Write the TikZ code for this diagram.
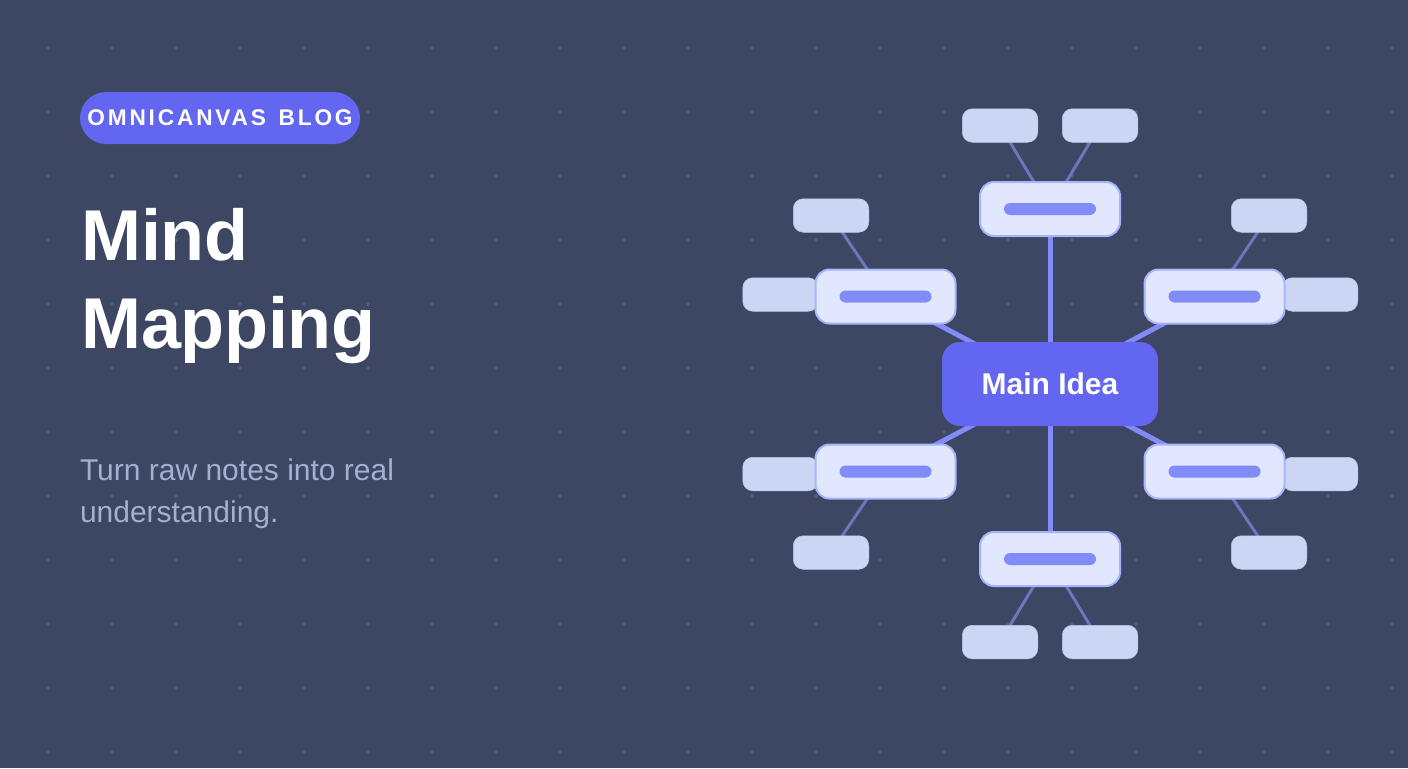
\documentclass[tikz,border=0pt]{standalone}
\usepackage{fontspec}
\setmainfont{Liberation Sans}
\usepackage{tikz}
\usetikzlibrary{backgrounds}
\definecolor{CanvasColor}{RGB}{61,70,98}
\definecolor{DotColor}{RGB}{82,90,120}
\definecolor{MainColor}{RGB}{99,102,241}
\definecolor{SpokeColor}{RGB}{129,140,248}
\definecolor{TwigColor}{RGB}{107,118,188}
\definecolor{MidColor}{RGB}{224,231,255}
\definecolor{MidEdgeColor}{RGB}{165,180,252}
\definecolor{LeafColor}{RGB}{205,213,245}
\definecolor{LeafEdgeColor}{RGB}{190,198,234}
\definecolor{NoteColor}{RGB}{165,176,207}
\newlength{\pxunit}
\setlength{\pxunit}{0.75pt}

\begin{document}
\begin{tikzpicture}[x=1\pxunit,y=-1\pxunit,
  box/.style n args={4}{rectangle,inner sep=0pt,outer sep=0pt,fill=#1,minimum width=#2\pxunit,minimum height=#3\pxunit,rounded corners=#4\pxunit},
  leaf/.style={box={LeafColor}{75.5}{33.5}{10},draw=LeafEdgeColor,line width=0.5\pxunit},
  midbox/.style={box={MidColor}{140}{54}{14},draw=MidEdgeColor,line width=2\pxunit},
  bar/.style={box={SpokeColor}{92}{12}{6}},
  spoke/.style={SpokeColor,line width=5\pxunit,shorten <=-4\pxunit,shorten >=-4\pxunit},
  twig/.style={TwigColor,line width=3\pxunit,shorten <=-4\pxunit,shorten >=-4\pxunit},
  txt/.style={inner sep=0pt,outer sep=0pt,text=white}]
\useasboundingbox (0,0) rectangle (1408,768);
\begin{scope}[on background layer]
  \fill[CanvasColor] (0,0) rectangle (1408,768);
  \foreach \x in {48,112,...,1392} {
    \foreach \y in {48,112,...,752} {
      \fill[DotColor] (\x,\y) circle (2\pxunit);
    }
  }
\end{scope}
\foreach \n/\x/\y in %
{l0/1000/125.5,l1/1100/125.5,l2/831/215.5,l3/1269/215.5,l4/780.5/294.5,l5/1320/294.5,%
l6/780.5/474,l7/1320/474,l8/831/552.5,l9/1269/552.5,l10/1000/642,l11/1100/642} {
   \node[leaf](\n) at (\x,\y) {};
}
\foreach \n/\x/\y in %
{m0/1050/209,m1/885.5/296.5,m2/1214.5/296.5,m3/885.5/471.5,m4/1214.5/471.5,m5/1050/559} {
   \node[midbox](\n) at (\x,\y) {};
   \node[bar](\n b) at (\n) {};
}
\node[box={MainColor}{216}{84}{18},txt,font=\fontsize{22.5}{27}\selectfont\bfseries](main) at (1050,384) {Main Idea};
\begin{scope}[on background layer]
  \foreach \n in {m0,m1,m2,m3,m4,m5} {
    \draw[spoke] (main) -- (\n);
  }
  \foreach \a/\b in {l0/m0,l1/m0,l2/m1,l4/m1,l3/m2,l5/m2,l6/m3,l8/m3,l7/m4,l9/m4,l10/m5,l11/m5} {
    \draw[twig] (\a) -- (\b);
  }
\end{scope}
\node[box={MainColor}{280}{52}{26},txt,font=\fontsize{17}{21}\selectfont\bfseries\addfontfeature{LetterSpace=12.5}](badge) at (220,118) {OMNICANVAS\hspace{2.6pt} BLOG};
\node[txt,anchor=north west,align=left,font=\fontsize{54}{66}\selectfont\bfseries\addfontfeature{LetterSpace=-0.5}](title) at (81.5,208) {Mind\\Mapping};
\node[txt,anchor=north west,align=left,text=NoteColor,font=\fontsize{22.5}{31.5}\selectfont](note) at (80,459) {Turn raw notes into real\\understanding.};
\end{tikzpicture}
\end{document}
